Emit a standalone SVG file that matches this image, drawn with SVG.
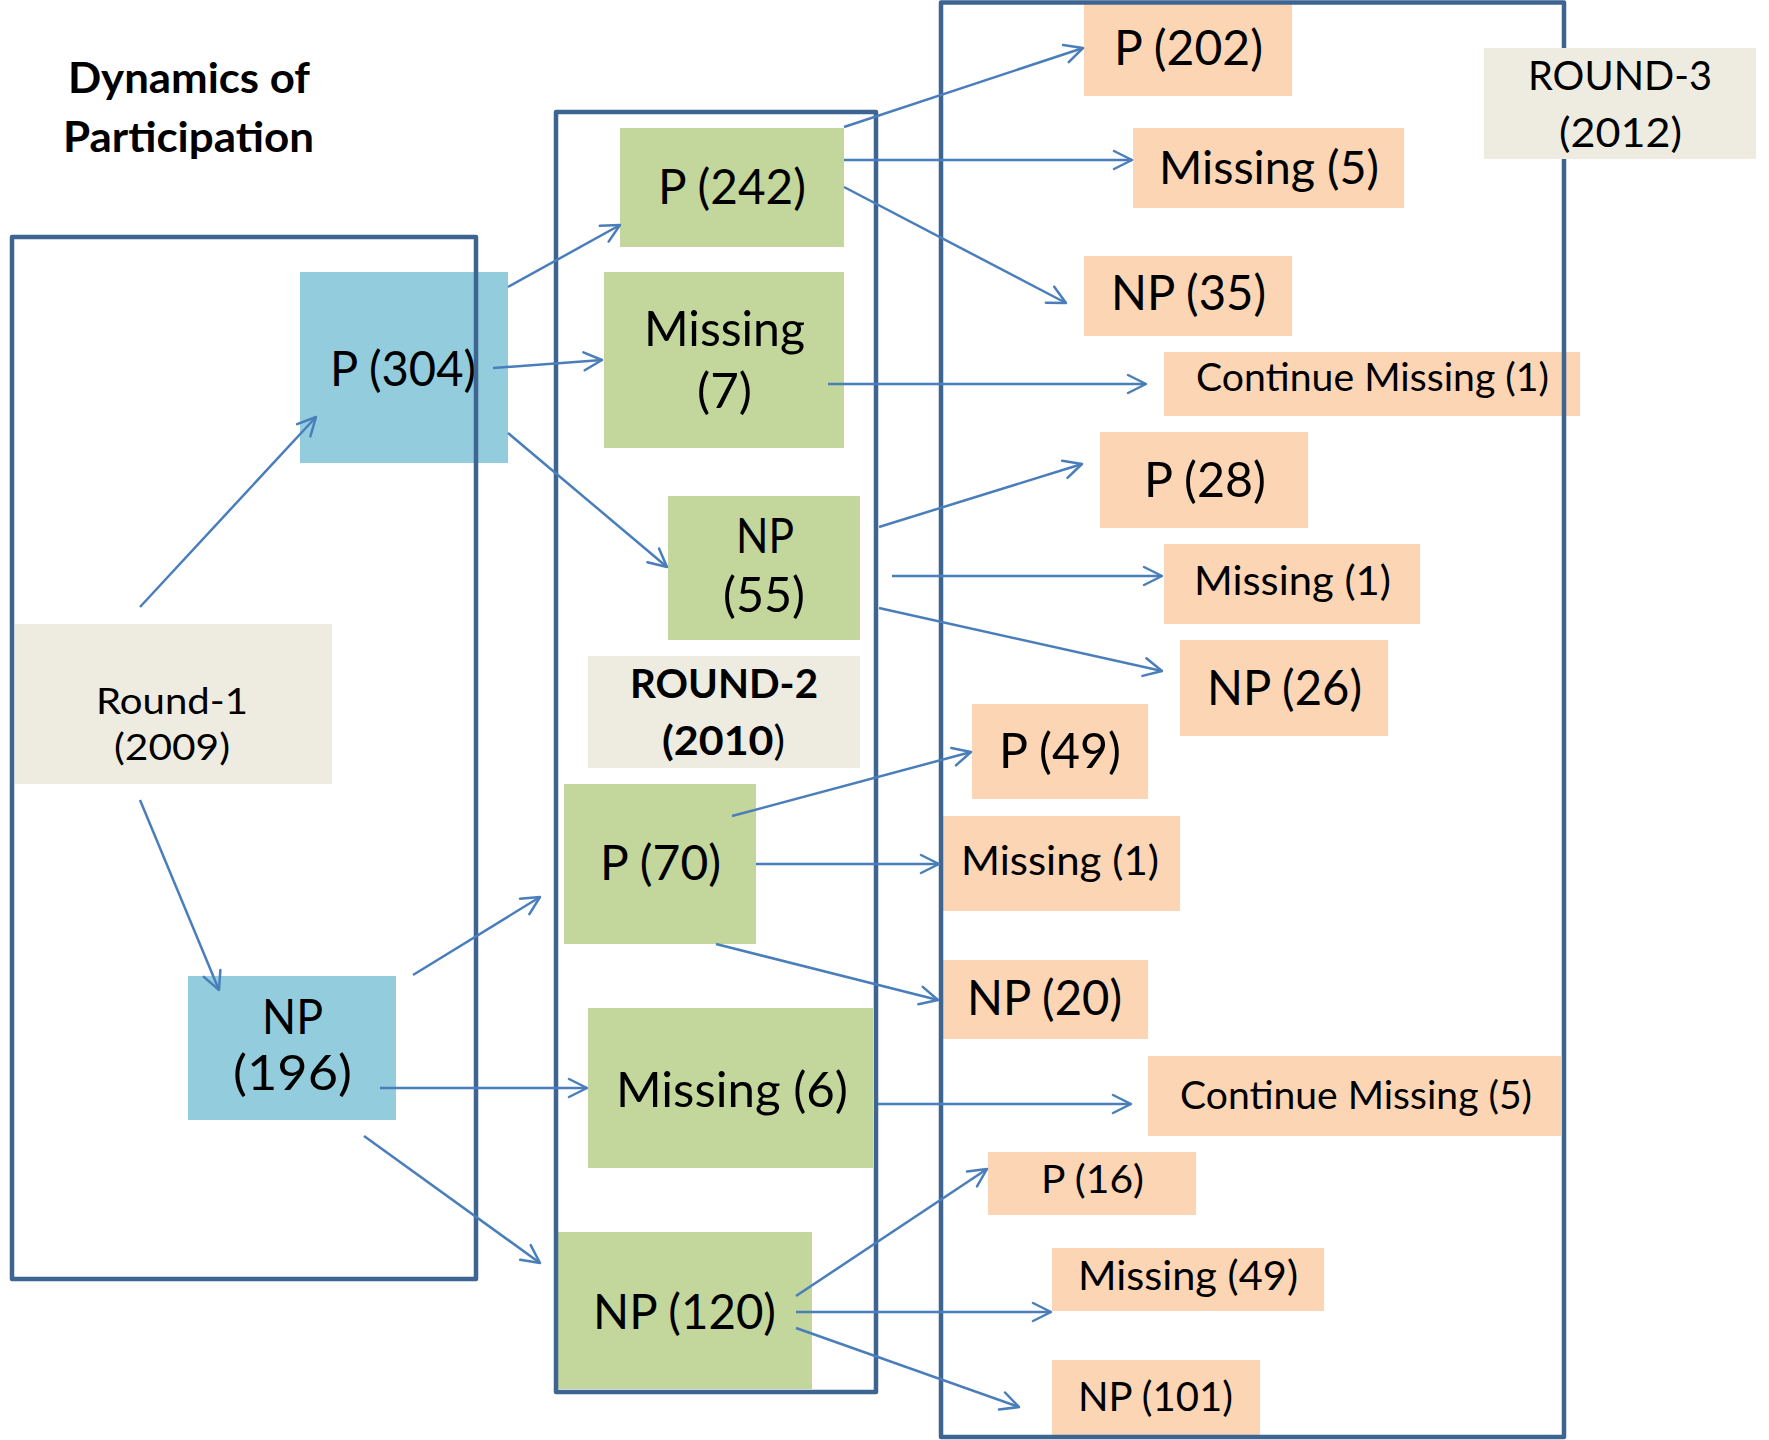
<svg xmlns="http://www.w3.org/2000/svg" width="1769" height="1440" viewBox="0 0 1769 1440">
<defs>
<style>
.t{font-family:Lato,"Open Sans","Liberation Sans",sans-serif;fill:#000}
.b{font-weight:bold}
.L{font-size:48px}
.M{font-size:41px}
.S{font-size:38px}
.blue{fill:#93CDDD}
.green{fill:#C3D69B}
.peach{fill:#FCD5B5}
.beige{fill:#EEECE1}
.frame{fill:none;stroke:#3E6491;stroke-width:4.5;stroke-linejoin:round}
.c{stroke:#4A7EBB;stroke-width:2.5;fill:none;marker-end:url(#ah)}
</style>
<marker id="ah" markerUnits="userSpaceOnUse" markerWidth="24" markerHeight="24" viewBox="0 0 24 24" refX="21" refY="12" orient="auto">
<path d="M3,3 L21,12 L3,21" fill="none" stroke="#4A7EBB" stroke-width="2.5" stroke-linecap="round" stroke-linejoin="round"/>
</marker>
</defs>
<rect width="1769" height="1440" fill="#fff"/>

<g id="title">
<text class="t b" x="68" y="93" font-size="42" textLength="242" lengthAdjust="spacingAndGlyphs">Dynamics of</text>
<text class="t b" x="63" y="152" font-size="42" textLength="251" lengthAdjust="spacingAndGlyphs">Participation</text>
</g>

<g id="round1-label">
<rect class="beige" x="15" y="624" width="317" height="160"/>
<text class="t" x="96" y="714" font-size="37" textLength="152" lengthAdjust="spacingAndGlyphs">Round-1</text>
<text class="t" x="114" y="760" font-size="37" textLength="116" lengthAdjust="spacingAndGlyphs">(2009)</text>
</g>
<g id="r1-p304">
<rect class="blue" x="300" y="272" width="208" height="191"/>
<text class="t L" x="330" y="386" textLength="146" lengthAdjust="spacingAndGlyphs">P (304)</text>
</g>
<g id="r1-np196">
<rect class="blue" x="188" y="976" width="208" height="144"/>
<text class="t L" x="262" y="1034" textLength="61" lengthAdjust="spacingAndGlyphs">NP</text>
<text class="t L" x="233" y="1090" textLength="119" lengthAdjust="spacingAndGlyphs">(196)</text>
</g>

<g id="r2-p242">
<rect class="green" x="620" y="128" width="224" height="119"/>
<text class="t L" x="658" y="204" textLength="148" lengthAdjust="spacingAndGlyphs">P (242)</text>
</g>
<g id="r2-missing7">
<rect class="green" x="604" y="272" width="240" height="176"/>
<text class="t L" x="644" y="346" textLength="161" lengthAdjust="spacingAndGlyphs">Missing</text>
<text class="t L" x="697" y="408" textLength="55" lengthAdjust="spacingAndGlyphs">(7)</text>
</g>
<g id="r2-np55">
<rect class="green" x="668" y="496" width="192" height="144"/>
<text class="t L" x="736" y="553" textLength="58" lengthAdjust="spacingAndGlyphs">NP</text>
<text class="t L" x="723" y="612" textLength="82" lengthAdjust="spacingAndGlyphs">(55)</text>
</g>
<g id="round2-label">
<rect class="beige" x="588" y="656" width="272" height="112"/>
<text class="t b M" x="630" y="698" textLength="188" lengthAdjust="spacingAndGlyphs">ROUND-2</text>
<text class="t M" x="662" y="755" textLength="123" lengthAdjust="spacingAndGlyphs"><tspan class="b">(2010</tspan>)</text>
</g>
<g id="r2-p70">
<rect class="green" x="564" y="784" width="192" height="160"/>
<text class="t L" x="600" y="880" textLength="121" lengthAdjust="spacingAndGlyphs">P (70)</text>
</g>
<g id="r2-missing6">
<rect class="green" x="588" y="1008" width="285" height="160"/>
<text class="t L" x="616" y="1107" textLength="232" lengthAdjust="spacingAndGlyphs">Missing (6)</text>
</g>
<g id="r2-np120">
<rect class="green" x="558" y="1232" width="254" height="157"/>
<text class="t L" x="593" y="1329" textLength="183" lengthAdjust="spacingAndGlyphs">NP (120)</text>
</g>

<g id="r3-p202">
<rect class="peach" x="1084" y="3" width="208" height="93"/>
<text class="t L" x="1114" y="65" textLength="149" lengthAdjust="spacingAndGlyphs">P (202)</text>
</g>
<g id="r3-missing5">
<rect class="peach" x="1133" y="128" width="271" height="80"/>
<text class="t" x="1159" y="184" font-size="46" textLength="220" lengthAdjust="spacingAndGlyphs">Missing (5)</text>
</g>
<g id="r3-np35">
<rect class="peach" x="1084" y="256" width="208" height="80"/>
<text class="t L" x="1111" y="310" textLength="155" lengthAdjust="spacingAndGlyphs">NP (35)</text>
</g>
<g id="r3-contmissing1">
<rect class="peach" x="1164" y="352" width="416" height="64"/>
<text class="t S" x="1196" y="391" textLength="353" lengthAdjust="spacingAndGlyphs">Continue Missing (1)</text>
</g>
<g id="r3-p28">
<rect class="peach" x="1100" y="432" width="208" height="96"/>
<text class="t L" x="1144" y="497" textLength="122" lengthAdjust="spacingAndGlyphs">P (28)</text>
</g>
<g id="r3-missing1a">
<rect class="peach" x="1164" y="544" width="256" height="80"/>
<text class="t M" x="1194" y="595" textLength="197" lengthAdjust="spacingAndGlyphs">Missing (1)</text>
</g>
<g id="r3-np26">
<rect class="peach" x="1180" y="640" width="208" height="96"/>
<text class="t L" x="1207" y="705" textLength="155" lengthAdjust="spacingAndGlyphs">NP (26)</text>
</g>
<g id="r3-p49">
<rect class="peach" x="972" y="704" width="176" height="95"/>
<text class="t L" x="999" y="768" textLength="122" lengthAdjust="spacingAndGlyphs">P (49)</text>
</g>
<g id="r3-missing1b">
<rect class="peach" x="943" y="816" width="237" height="95"/>
<text class="t M" x="961" y="875" textLength="198" lengthAdjust="spacingAndGlyphs">Missing (1)</text>
</g>
<g id="r3-np20">
<rect class="peach" x="943" y="960" width="205" height="79"/>
<text class="t L" x="967" y="1015" textLength="155" lengthAdjust="spacingAndGlyphs">NP (20)</text>
</g>
<g id="r3-contmissing5">
<rect class="peach" x="1148" y="1056" width="413" height="80"/>
<text class="t S" x="1180" y="1109" textLength="352" lengthAdjust="spacingAndGlyphs">Continue Missing (5)</text>
</g>
<g id="r3-p16">
<rect class="peach" x="988" y="1152" width="208" height="63"/>
<text class="t S" x="1041" y="1193" textLength="103" lengthAdjust="spacingAndGlyphs">P (16)</text>
</g>
<g id="r3-missing49">
<rect class="peach" x="1052" y="1248" width="272" height="63"/>
<text class="t M" x="1078" y="1290" textLength="220" lengthAdjust="spacingAndGlyphs">Missing (49)</text>
</g>
<g id="r3-np101">
<rect class="peach" x="1052" y="1360" width="208" height="77"/>
<text class="t M" x="1078" y="1411" textLength="155" lengthAdjust="spacingAndGlyphs">NP (101)</text>
</g>

<g id="frames">
<rect id="round1-frame" class="frame" x="12" y="237" width="464" height="1042"/>
<rect id="round2-frame" class="frame" x="556" y="112" width="320" height="1280"/>
<rect id="round3-frame" class="frame" x="941" y="2.5" width="623" height="1434.5"/>
</g>

<g id="round3-label">
<rect class="beige" x="1484" y="48" width="272" height="111"/>
<text class="t M" x="1528" y="90" textLength="184" lengthAdjust="spacingAndGlyphs">ROUND-3</text>
<text class="t M" x="1559" y="147" textLength="123" lengthAdjust="spacingAndGlyphs">(2012)</text>
</g>

<g id="connectors">
<line class="c" x1="140" y1="607" x2="316" y2="417"/>
<line class="c" x1="140" y1="800" x2="219" y2="990"/>
<line class="c" x1="508" y1="287" x2="620" y2="225"/>
<line class="c" x1="493" y1="368" x2="602" y2="360"/>
<line class="c" x1="508" y1="433" x2="667" y2="567"/>
<line class="c" x1="413" y1="975" x2="540" y2="897"/>
<line class="c" x1="380" y1="1088" x2="587" y2="1088"/>
<line class="c" x1="364" y1="1136" x2="540" y2="1263"/>
<line class="c" x1="844" y1="127" x2="1083" y2="48"/>
<line class="c" x1="844" y1="160" x2="1132" y2="160"/>
<line class="c" x1="844" y1="187" x2="1066" y2="303"/>
<line class="c" x1="828" y1="384" x2="1146" y2="384"/>
<line class="c" x1="879" y1="527" x2="1082" y2="464"/>
<line class="c" x1="892" y1="576" x2="1162" y2="576"/>
<line class="c" x1="879" y1="608" x2="1162" y2="671"/>
<line class="c" x1="732" y1="816" x2="971" y2="752"/>
<line class="c" x1="756" y1="864" x2="939" y2="864"/>
<line class="c" x1="716" y1="944" x2="938" y2="1000"/>
<line class="c" x1="878" y1="1104" x2="1131" y2="1104"/>
<line class="c" x1="796" y1="1296" x2="987" y2="1169"/>
<line class="c" x1="796" y1="1312" x2="1051" y2="1312"/>
<line class="c" x1="796" y1="1328" x2="1019" y2="1407"/>
</g>
</svg>
